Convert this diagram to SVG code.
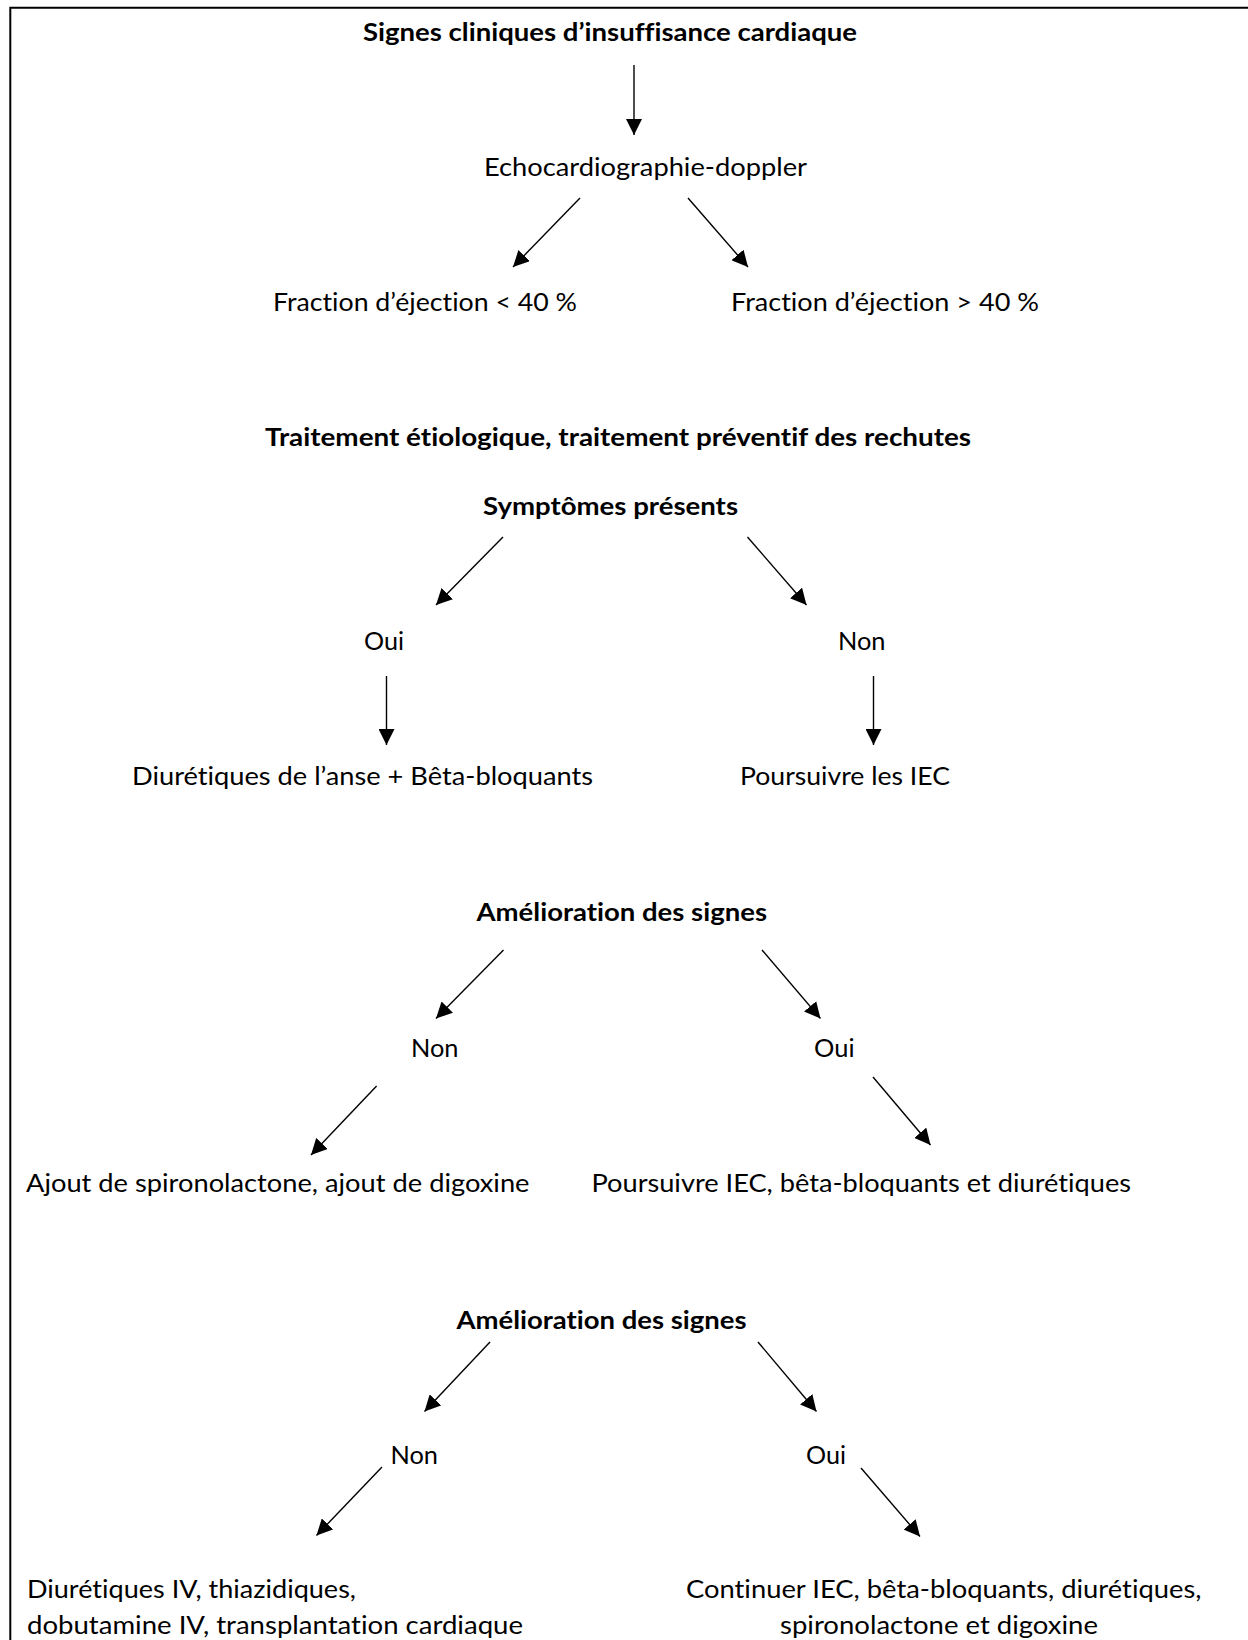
<svg xmlns="http://www.w3.org/2000/svg" width="1248" height="1640" viewBox="0 0 1248 1640">
  <style>
    text { font-family: Lato, "Open Sans", "Liberation Sans", sans-serif; font-size: 24.5px; fill: #000; font-variant-ligatures: none; font-feature-settings: "liga" 0, "dlig" 0, "clig" 0; }
    .b { font-weight: bold; }
    .edge { stroke: #000; stroke-width: 1.4; fill: none; marker-end: url(#head); }
  </style>
  <defs>
    <marker id="head" markerUnits="userSpaceOnUse" markerWidth="16" markerHeight="16" viewBox="0 0 16 16" refX="16" refY="8" orient="auto">
      <path d="M0,0 L16,8 L0,16 z" fill="#000"/>
    </marker>
  </defs>
  <rect width="1248" height="1640" fill="#fff"/>
  <!-- page frame (open at right and bottom) -->
  <path d="M10.3,1640 V7.7 H1248" fill="none" stroke="#000" stroke-width="2"/>

  <g id="connectors">
    <line class="edge" x1="634" y1="65" x2="634" y2="135"/>
    <line class="edge" x1="580" y1="198" x2="513" y2="267"/>
    <line class="edge" x1="688" y1="198" x2="748" y2="267"/>
    <line class="edge" x1="503" y1="537" x2="436" y2="605"/>
    <line class="edge" x1="747.5" y1="537" x2="806.5" y2="605"/>
    <line class="edge" x1="386.5" y1="676" x2="386.5" y2="745"/>
    <line class="edge" x1="873.5" y1="676" x2="873.5" y2="745"/>
    <line class="edge" x1="503.5" y1="950" x2="436" y2="1018.5"/>
    <line class="edge" x1="762" y1="950" x2="820.5" y2="1018.5"/>
    <line class="edge" x1="376.6" y1="1086" x2="311" y2="1155"/>
    <line class="edge" x1="873" y1="1077" x2="930.5" y2="1145"/>
    <line class="edge" x1="490" y1="1342" x2="424.5" y2="1411.5"/>
    <line class="edge" x1="758" y1="1342" x2="816.5" y2="1411.5"/>
    <line class="edge" x1="382" y1="1467" x2="316.5" y2="1535.5"/>
    <line class="edge" x1="861" y1="1468" x2="920" y2="1536.5"/>
  </g>

  <g id="n-signes"><text class="b" x="363" y="40.7" textLength="494" lengthAdjust="spacingAndGlyphs">Signes cliniques d’insuffisance cardiaque</text></g>
  <g id="n-echo"><text x="484" y="176" textLength="323" lengthAdjust="spacingAndGlyphs">Echocardiographie-doppler</text></g>
  <g id="n-fe-low"><text x="273" y="311" textLength="304" lengthAdjust="spacingAndGlyphs">Fraction d’éjection &lt; 40 %</text></g>
  <g id="n-fe-high"><text x="731" y="311" textLength="308" lengthAdjust="spacingAndGlyphs">Fraction d’éjection &gt; 40 %</text></g>
  <g id="n-traitement"><text class="b" x="265" y="446" textLength="706" lengthAdjust="spacingAndGlyphs">Traitement étiologique, traitement préventif des rechutes</text></g>
  <g id="n-symptomes"><text class="b" x="483" y="515" textLength="255" lengthAdjust="spacingAndGlyphs">Symptômes présents</text></g>
  <g id="n-oui-1"><text x="364" y="650" textLength="40" lengthAdjust="spacingAndGlyphs">Oui</text></g>
  <g id="n-non-1"><text x="838" y="650" textLength="47.5" lengthAdjust="spacingAndGlyphs">Non</text></g>
  <g id="n-diuretiques-anse"><text x="132" y="785" textLength="461" lengthAdjust="spacingAndGlyphs">Diurétiques de l’anse + Bêta-bloquants</text></g>
  <g id="n-poursuivre-iec"><text x="740" y="785" textLength="210" lengthAdjust="spacingAndGlyphs">Poursuivre les IEC</text></g>
  <g id="n-amelioration-1"><text class="b" x="476.5" y="920.5" textLength="290.5" lengthAdjust="spacingAndGlyphs">Amélioration des signes</text></g>
  <g id="n-non-2"><text x="411" y="1057" textLength="47.5" lengthAdjust="spacingAndGlyphs">Non</text></g>
  <g id="n-oui-2"><text x="814" y="1057" textLength="40.5" lengthAdjust="spacingAndGlyphs">Oui</text></g>
  <g id="n-ajout"><text x="26" y="1192" textLength="503.5" lengthAdjust="spacingAndGlyphs">Ajout de spironolactone, ajout de digoxine</text></g>
  <g id="n-poursuivre-tout"><text x="591.5" y="1192" textLength="539.5" lengthAdjust="spacingAndGlyphs">Poursuivre IEC, bêta-bloquants et diurétiques</text></g>
  <g id="n-amelioration-2"><text class="b" x="456.5" y="1328.5" textLength="290" lengthAdjust="spacingAndGlyphs">Amélioration des signes</text></g>
  <g id="n-non-3"><text x="390.5" y="1464" textLength="47.5" lengthAdjust="spacingAndGlyphs">Non</text></g>
  <g id="n-oui-3"><text x="806" y="1464" textLength="40" lengthAdjust="spacingAndGlyphs">Oui</text></g>
  <g id="n-diuretiques-iv">
    <text x="27" y="1598" textLength="329" lengthAdjust="spacingAndGlyphs">Diurétiques IV, thiazidiques,</text>
    <text x="27" y="1634" textLength="496" lengthAdjust="spacingAndGlyphs">dobutamine IV, transplantation cardiaque</text>
  </g>
  <g id="n-continuer">
    <text x="686" y="1598" textLength="515.5" lengthAdjust="spacingAndGlyphs">Continuer IEC, bêta-bloquants, diurétiques,</text>
    <text x="780" y="1634" textLength="318" lengthAdjust="spacingAndGlyphs">spironolactone et digoxine</text>
  </g>
</svg>
